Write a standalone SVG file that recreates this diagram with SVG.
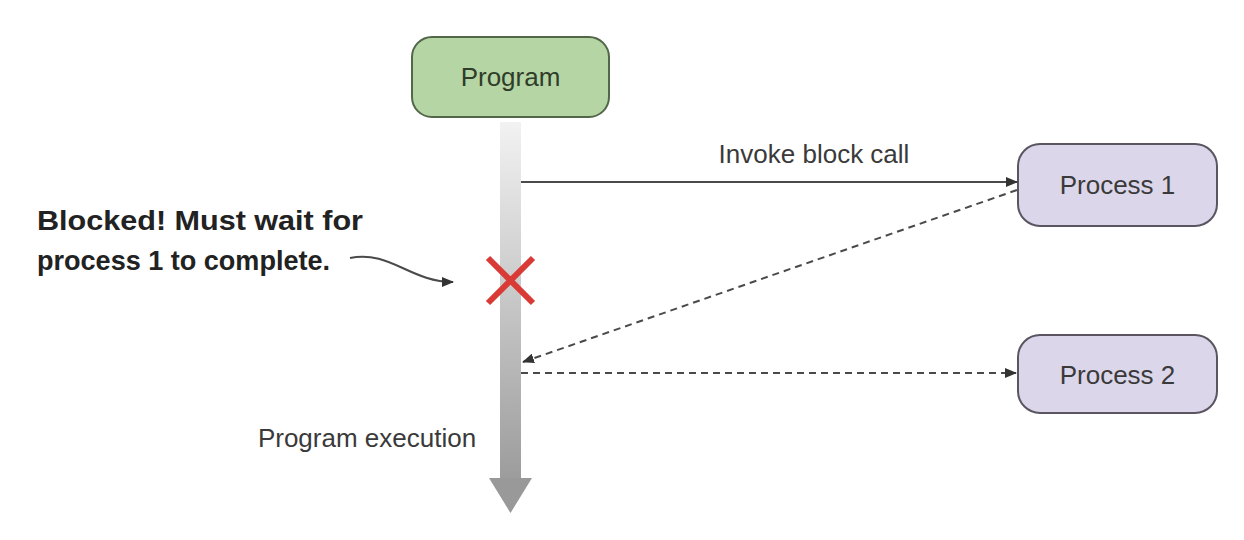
<svg xmlns="http://www.w3.org/2000/svg" width="1244" height="540" viewBox="0 0 1244 540">
<style>
.lbl{font-family:"Liberation Sans",Arial,sans-serif;font-size:26px;fill:#3a3a3a}
.note{font-family:"Liberation Sans",Arial,sans-serif;font-size:28px;font-weight:bold;fill:#222}
.conn{stroke:#4a4a4a;stroke-width:2;fill:none}
.dash{stroke-dasharray:7 5}
</style>
<defs>
<linearGradient id="bar" x1="0" y1="0" x2="0" y2="1">
<stop offset="0" stop-color="#f2f2f2"/>
<stop offset="1" stop-color="#9c9c9c"/>
</linearGradient>
<marker id="ah" markerWidth="12" markerHeight="10" refX="11" refY="5" orient="auto" markerUnits="userSpaceOnUse">
<path d="M0,0 L12,5 L0,10 Z" fill="#333"/>
</marker>
</defs>
<g id="timeline">
<rect x="500" y="122" width="21" height="358" fill="url(#bar)"/>
<path d="M489,478 L532,478 L510.5,513 Z" fill="#999"/>
<text class="lbl" x="367" y="447" text-anchor="middle">Program execution</text>
</g>
<g id="program">
<rect x="412" y="37" width="197" height="80" rx="20" fill="#b6d5a4" stroke="#52664a" stroke-width="2"/>
<text class="lbl" x="510.5" y="86" text-anchor="middle" style="fill:#2f3d2a">Program</text>
</g>
<g id="process1">
<rect x="1018" y="144" width="199" height="82" rx="22" fill="#dcd6ea" stroke="#5a5560" stroke-width="2"/>
<text class="lbl" x="1117.5" y="194" text-anchor="middle">Process 1</text>
</g>
<g id="process2">
<rect x="1018" y="335" width="199" height="78" rx="22" fill="#dcd6ea" stroke="#5a5560" stroke-width="2"/>
<text class="lbl" x="1117.5" y="384" text-anchor="middle">Process 2</text>
</g>
<g id="blocked">
<path d="M488,258 L533,303 M533,258 L488,303" stroke="#d93a36" stroke-width="6" fill="none"/>
<text class="note" x="37" y="230" textLength="326" lengthAdjust="spacingAndGlyphs">Blocked! Must wait for</text>
<text class="note" x="37" y="270" textLength="293" lengthAdjust="spacingAndGlyphs">process 1 to complete.</text>
</g>
<g id="connectors">
<line class="conn" x1="521" y1="182" x2="1017" y2="182" marker-end="url(#ah)"/>
<text class="lbl" x="814" y="163" text-anchor="middle">Invoke block call</text>
<line class="conn dash" x1="1017" y1="190" x2="523" y2="362" marker-end="url(#ah)"/>
<line class="conn dash" x1="521" y1="373" x2="1016" y2="373" marker-end="url(#ah)"/>
<path class="conn" d="M350,258 C390,250 410,282 453,282" stroke-width="1.5" marker-end="url(#ah)"/>
</g>
</svg>
